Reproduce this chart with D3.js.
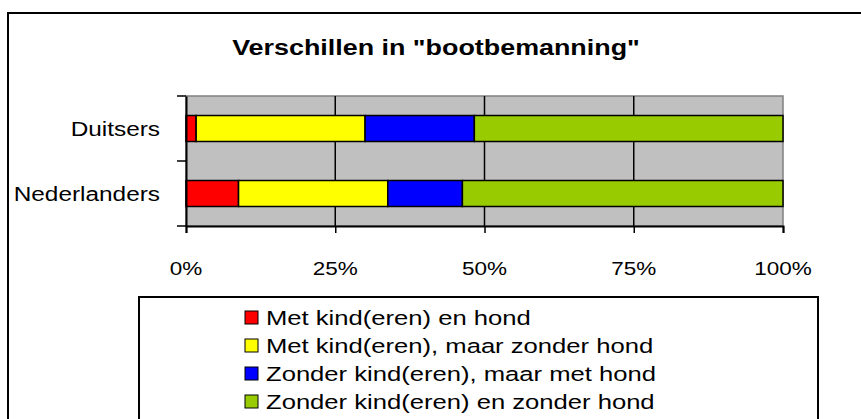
<!DOCTYPE html>
<html>
<head>
  <script src="https://cdn.jsdelivr.net/npm/d3@7"></script>
  <style>
    body { margin: 0; background: #fff; }
    text { font-family: "Liberation Sans", Arial, sans-serif; fill: #000; }
  </style>
</head>
<body>
  <div id="chart"></div>
  <script>
    const title = 'Verschillen in "bootbemanning"';
    const groups = ["Duitsers", "Nederlanders"];
    const seriesNames = [
      "Met kind(eren) en hond",
      "Met kind(eren), maar zonder hond",
      "Zonder kind(eren), maar met hond",
      "Zonder kind(eren) en zonder hond"
    ];
    const colors = ["#ff0000", "#ffff00", "#0000ff", "#99cc00"];
    // percentages per series, in order of groups
    const metKindEnHond = [1.7, 8.8];
    const metKindZonderHond = [28.3, 25.0];
    const zonderKindMetHond = [18.3, 12.5];
    const zonderKindZonderHond = [51.7, 53.7];
    const tickValues = [0, 25, 50, 75, 100];

    const width = 861, height = 419;
    const sx = 1.25; // text in the picture is stretched horizontally
    const margin = { top: 96, left: 186, right: 78, bottom: 193 };

    const svg = d3.select("#chart").append("svg")
      .attr("width", width)
      .attr("height", height);

    // outer frame (runs off the right and bottom)
    svg.append("rect")
      .attr("x", 8).attr("y", 13)
      .attr("width", 900).attr("height", 500)
      .attr("fill", "none").attr("stroke", "#000").attr("stroke-width", 2);

    const stretchText = (sel, x, y, str, size, anchor, weight) => {
      sel.append("g")
        .attr("transform", `translate(${x},${y}) scale(${sx},1)`)
        .append("text")
        .attr("text-anchor", anchor)
        .style("font-size", size + "px")
        .style("font-weight", weight || "normal")
        .text(str);
    };

    stretchText(svg, 436, 55, title, 21.5, "middle", "bold");

    const x = d3.scaleLinear().domain([0, 100]).range([margin.left, width - margin.right]);
    const y = d3.scaleBand().domain(groups).range([margin.top, height - margin.bottom]).paddingInner(0.6).paddingOuter(0.3);
    const yOuter = d3.scaleBand().domain(groups).range([margin.top, height - margin.bottom]);

    // plot area
    svg.append("rect")
      .attr("x", x(0)).attr("y", margin.top)
      .attr("width", x(100) - x(0)).attr("height", height - margin.bottom - margin.top)
      .attr("fill", "#c0c0c0").attr("stroke", "#808080").attr("stroke-width", 1.5);

    svg.append("g").selectAll("line")
      .data(tickValues.slice(1, -1))
      .join("line")
      .attr("x1", d => x(d)).attr("x2", d => x(d))
      .attr("y1", margin.top).attr("y2", height - margin.bottom)
      .attr("stroke", "#000").attr("stroke-width", 1.5);

    // stacked bars
    const rows = groups.map((g, i) => ({
      group: g,
      v: [metKindEnHond[i], metKindZonderHond[i], zonderKindMetHond[i], zonderKindZonderHond[i]]
    }));
    const stacked = d3.stack().keys([0, 1, 2, 3]).value((d, k) => d.v[k])(rows);

    svg.append("g").selectAll("g")
      .data(stacked)
      .join("g")
      .attr("fill", (d, i) => colors[i])
      .selectAll("rect")
      .data(d => d)
      .join("rect")
      .attr("x", d => x(d[0]))
      .attr("y", d => y(d.data.group))
      .attr("width", d => x(d[1]) - x(d[0]))
      .attr("height", y.bandwidth())
      .attr("stroke", "#000").attr("stroke-width", 1.5);

    // axes
    const xAxis = svg.append("g")
      .attr("transform", `translate(0,${height - margin.bottom})`)
      .call(d3.axisBottom(x).tickValues(tickValues).tickSize(7).tickFormat(""));
    xAxis.select(".domain").attr("stroke-width", 2);
    xAxis.selectAll("line").attr("stroke-width", 1.5);
    tickValues.forEach(t => stretchText(svg, x(t), 275, t + "%", 18, "middle"));

    const yAxis = svg.append("g")
      .attr("transform", `translate(${margin.left},0)`)
      .call(d3.axisLeft(yOuter).tickSize(0).tickFormat(""));
    yAxis.select(".domain").attr("stroke-width", 2);
    const boundaries = [margin.top].concat(groups.map(g => yOuter(g) + yOuter.bandwidth()));
    svg.append("g").selectAll("line")
      .data(boundaries)
      .join("line")
      .attr("x1", margin.left - 9).attr("x2", margin.left)
      .attr("y1", d => d).attr("y2", d => d)
      .attr("stroke", "#000").attr("stroke-width", 1.5);
    groups.forEach(g => stretchText(svg, 160, y(g) + y.bandwidth() / 2 + 7, g, 19.5, "end"));

    // legend
    const lg = svg.append("g");
    lg.append("rect")
      .attr("x", 139).attr("y", 297)
      .attr("width", 679).attr("height", 200)
      .attr("fill", "#fff").attr("stroke", "#000").attr("stroke-width", 2);
    seriesNames.forEach((name, i) => {
      const yy = 318 + i * 28;
      lg.append("rect")
        .attr("x", 245).attr("y", yy - 7)
        .attr("width", 13).attr("height", 13)
        .attr("fill", colors[i]).attr("stroke", "#000").attr("stroke-width", 1);
      stretchText(lg, 266, yy + 7, name, 20.5, "start");
    });
  </script>
</body>
</html>
